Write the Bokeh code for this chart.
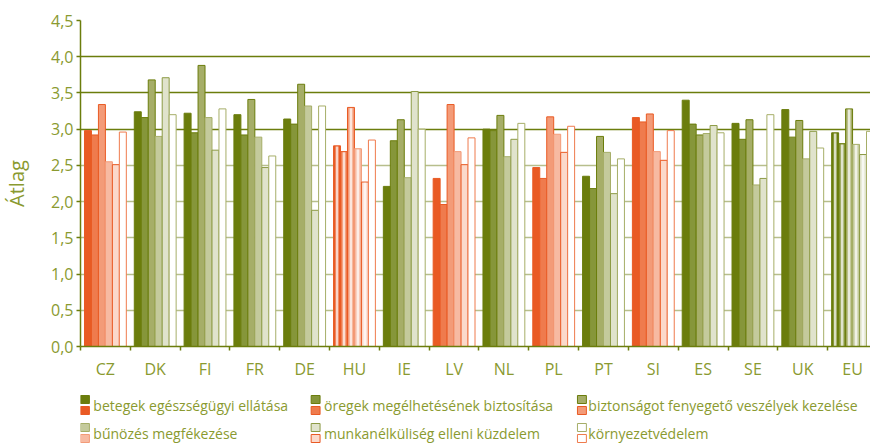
from bokeh.plotting import figure
from bokeh.models import ColumnDataSource, FixedTicker, Range1d, Grid
from bokeh.layouts import column
from bokeh.core.properties import value
from bokeh.embed import file_html
from bokeh.resources import INLINE

# ---------------- data ----------------
countries = ["CZ", "DK", "FI", "FR", "DE", "HU", "IE", "LV", "NL", "PL",
             "PT", "SI", "ES", "SE", "UK", "EU"]
series_names = [
    "betegek egészségügyi ellátása",
    "öregek megélhetésének biztosítása",
    "biztonságot fenyegető veszélyek kezelése",
    "bűnözés megfékezése",
    "munkanélküliség elleni küzdelem",
    "környezetvédelem",
]
betegek = [2.98, 3.24, 3.22, 3.20, 3.14, 2.77, 2.21, 2.32, 3.00, 2.47, 2.35, 3.16, 3.40, 3.08, 3.27, 2.95]
oregek = [2.92, 3.16, 2.95, 2.92, 3.07, 2.69, 2.84, 1.96, 2.98, 2.32, 2.18, 3.10, 3.07, 2.86, 2.89, 2.80]
biztonsag = [3.34, 3.68, 3.88, 3.41, 3.62, 3.30, 3.13, 3.34, 3.19, 3.17, 2.90, 3.21, 2.92, 3.13, 3.12, 3.28]
bunozes = [2.55, 2.90, 3.16, 2.89, 3.32, 2.73, 2.33, 2.69, 2.62, 2.93, 2.68, 2.69, 2.94, 2.23, 2.59, 2.79]
munkanelk = [2.51, 3.71, 2.71, 2.47, 1.88, 2.27, 3.52, 2.51, 2.86, 2.68, 2.11, 2.57, 3.05, 2.32, 2.97, 2.65]
kornyezet = [2.96, 3.20, 3.28, 2.63, 3.32, 2.85, 3.00, 2.88, 3.08, 3.04, 2.59, 2.98, 2.95, 3.20, 2.74, 2.97]
series = [betegek, oregek, biztonsag, bunozes, munkanelk, kornyezet]

orange_countries = {"CZ", "HU", "LV", "PL", "SI"}
striped_countries = {"HU", "EU"}

y_ticks = [0.0, 0.5, 1.0, 1.5, 2.0, 2.5, 3.0, 3.5, 4.0, 4.5]
y_tick_labels = ["0,0", "0,5", "1,0", "1,5", "2,0", "2,5", "3,0", "3,5", "4,0", "4,5"]

# ---------------- styles ----------------
OLIVE = "#6b7d0c"
TEXT = "#8a9a30"
LIGHT_GRID = "#b7be8c"
GREEN_FILL = ["#6b7d0c", "#86963a", "#a6ae68", "#c4ca9c", "#e0e3cc", "#ffffff"]
GREEN_LINE = ["#6b7d0c", "#6b7d0c", "#6b7d0c", "#a6ae68", "#8c9a45", "#a6ae68"]
ORANGE_FILL = ["#e95a24", "#ef7b4d", "#f39b78", "#f7baa2", "#fbd9cb", "#ffffff"]
ORANGE_LINE = ["#e95a24", "#e95a24", "#e95a24", "#f39b78", "#e95a24", "#ef7b4d"]
BAR_W = 0.14
FONT = "Open Sans"
FIG_W = 870
FRAME_LEFT = 72
MAIN_H = 384


def blend(hexc, t):
    h = hexc.lstrip("#")
    r, g, b = (int(h[i:i + 2], 16) for i in (0, 2, 4))
    r, g, b = (int(c + (255 - c) * t) for c in (r, g, b))
    return "#%02x%02x%02x" % (r, g, b)


xs, tops, fills, lines = [], [], [], []
sx, stops, sfills = [], [], []
for si, vals in enumerate(series):
    for ci, c in enumerate(countries):
        x = ci + 0.5 + (si - 2.5) * BAR_W
        orange = c in orange_countries
        fill = (ORANGE_FILL if orange else GREEN_FILL)[si]
        line = (ORANGE_LINE if orange else GREEN_LINE)[si]
        xs.append(x)
        tops.append(vals[ci])
        fills.append(fill)
        lines.append(line)
        if c in striped_countries and si < 5:
            sx.append(x)
            stops.append(vals[ci] - 0.01)
            sfills.append(blend(fill, 0.75))

src = ColumnDataSource(dict(x=xs, top=tops, fill=fills, line=lines))
stripe_src = ColumnDataSource(dict(x=sx, top=stops, fill=sfills))

# ---------------- main figure ----------------
p = figure(width=FIG_W, height=MAIN_H, output_backend="svg", toolbar_location=None,
           x_range=Range1d(0, 15.86), y_range=Range1d(0, 4.5),
           min_border_left=FRAME_LEFT, min_border_right=0, min_border_top=20,
           min_border_bottom=38)
p.outline_line_color = None
p.background_fill_color = "white"

p.vbar(x="x", top="top", bottom=0, width=BAR_W, source=src,
       fill_color="fill", line_color="line", line_width=1)
p.vbar(x="x", top="top", bottom=0, width=BAR_W * 0.4, source=stripe_src,
       fill_color="fill", line_color=None)

# grids
p.xgrid.visible = False
p.ygrid.ticker = FixedTicker(ticks=[t for t in y_ticks if 0 < t <= 2.5])
p.ygrid.grid_line_color = LIGHT_GRID
p.ygrid.grid_line_width = 1.5
dark_grid = Grid(dimension=1, ticker=FixedTicker(ticks=[t for t in y_ticks if t >= 3.0]),
                 grid_line_color=OLIVE, grid_line_width=1.5)
p.add_layout(dark_grid)

# x axis
xa = p.xaxis[0]
xa.ticker = FixedTicker(ticks=[i + 0.5 for i in range(len(countries))],
                        minor_ticks=list(range(len(countries) + 1)))
xa.major_label_overrides = {i + 0.5: c for i, c in enumerate(countries)}
xa.major_tick_out = 0
xa.major_tick_in = 0
xa.minor_tick_out = 4
xa.minor_tick_in = 0
xa.minor_tick_line_color = OLIVE
xa.minor_tick_line_width = 1.5
xa.axis_line_color = OLIVE
xa.axis_line_width = 1.5
xa.major_label_standoff = 7
xa.major_label_text_font = FONT
xa.major_label_text_font_size = "16px"
xa.major_label_text_color = TEXT

# y axis
ya = p.yaxis[0]
ya.ticker = FixedTicker(ticks=y_ticks)
ya.major_label_overrides = {t: l for t, l in zip(y_ticks, y_tick_labels)}
ya.major_tick_out = 4
ya.major_tick_in = 0
ya.minor_tick_out = 0
ya.minor_tick_in = 0
ya.major_tick_line_color = OLIVE
ya.major_tick_line_width = 1.5
ya.axis_line_color = OLIVE
ya.axis_line_width = 1.5
ya.major_label_standoff = 3
ya.major_label_text_font = FONT
ya.major_label_text_font_size = "16px"
ya.major_label_text_color = TEXT
ya.axis_label = "Átlag"
ya.axis_label_text_font = FONT
ya.axis_label_text_font_size = "20px"
ya.axis_label_text_font_style = "normal"
ya.axis_label_text_color = TEXT
ya.axis_label_standoff = 18

# ---------------- legend figure ----------------
LEG_H = 59
lg = figure(width=FIG_W, height=LEG_H, output_backend="svg", toolbar_location=None,
            x_range=Range1d(FRAME_LEFT, FIG_W), y_range=Range1d(LEG_H, 0),
            x_axis_type=None, y_axis_type=None,
            min_border_left=FRAME_LEFT, min_border_right=0,
            min_border_top=0, min_border_bottom=0)
lg.outline_line_color = None
lg.grid.visible = False

col_sw = [72, 305, 574]
col_tx = [85, 318, 585]
row_top = [11, 39]
row_text = [21, 48.5]
sw_w, sw_h, sw_gap = 9, 8, 3

ql, qr, qt, qb, qf, qc = [], [], [], [], [], []
tx, ty, tt = [], [], []
for si, name in enumerate(series_names):
    r, cidx = divmod(si, 3)
    x0 = col_sw[cidx]
    y0 = row_top[r]
    for k, (fl, ln) in enumerate([(GREEN_FILL, GREEN_LINE), (ORANGE_FILL, ORANGE_LINE)]):
        top = y0 + k * (sw_h + sw_gap)
        ql.append(x0)
        qr.append(x0 + sw_w)
        qt.append(top)
        qb.append(top + sw_h)
        qf.append(fl[si])
        qc.append(ln[si])
    tx.append(col_tx[cidx])
    ty.append(row_text[r])
    tt.append(name)

lg.quad(left=ql, right=qr, top=qt, bottom=qb, fill_color=qf, line_color=qc, line_width=1)
lg.text(x=tx, y=ty, text=tt, text_baseline="middle", text_align="left",
        text_font=value(FONT), text_font_size="14px", text_color=TEXT)

layout = column(p, lg, spacing=0)
open("out.html", "w").write(file_html(layout, INLINE))
